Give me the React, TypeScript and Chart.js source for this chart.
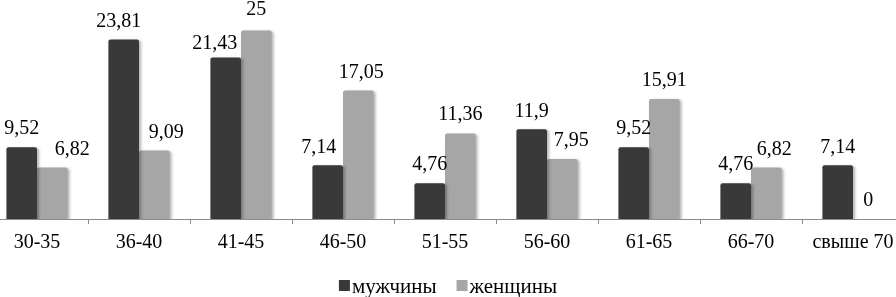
import React, { useEffect, useRef } from "react";
import { Chart, registerables } from "chart.js";

Chart.register(...registerables);

// ---- data ----
const categories = ["30-35", "36-40", "41-45", "46-50", "51-55", "56-60", "61-65", "66-70", "свыше 70"];
const menValues = [9.52, 23.81, 21.43, 7.14, 4.76, 11.9, 9.52, 4.76, 7.14];
const womenValues = [6.82, 9.09, 25, 17.05, 11.36, 7.95, 15.91, 6.82, 0];
const seriesNames = ["мужчины", "женщины"];

// ---- style ----
const seriesColors = ["#393939", "#a6a6a6"];
const yMax = 28;
const FONT = "'Liberation Serif', 'Times New Roman', serif";
// label nudges relative to the bar top (px)
const menLabelShiftX = [0, -5, -11, -9, 0, 0, 0, 0, 0];
const womenLabelShiftX = [20, 12, 0, 3, 0, 9, 0, 8, 0];
const menLabelShiftY = [0, 0, 4, 1, 0, 1, 0, 0, 1];
const womenLabelShiftY = [0, 0, -3, 0, 0, 0, 0, 0, 0];

const CANVAS_W = 918;
const CANVAS_H = 297;
const OFFSET_LEFT = -14;

const shadowPlugin = {
  id: "barShadow",
  beforeDatasetDraw(chart: any) {
    const ctx = chart.ctx;
    ctx.save();
    ctx.shadowColor = "rgba(0,0,0,0.3)";
    ctx.shadowBlur = 3;
    ctx.shadowOffsetX = 2;
    ctx.shadowOffsetY = 1;
  },
  afterDatasetDraw(chart: any) {
    chart.ctx.restore();
  },
};

const dataLabelPlugin = {
  id: "dataLabels",
  afterDatasetsDraw(chart: any) {
    const ctx = chart.ctx;
    const shiftsX = [menLabelShiftX, womenLabelShiftX];
    const shiftsY = [menLabelShiftY, womenLabelShiftY];
    ctx.save();
    ctx.font = `20px ${FONT}`;
    ctx.fillStyle = "#000";
    ctx.textAlign = "center";
    ctx.textBaseline = "alphabetic";
    chart.data.datasets.forEach((ds: any, di: number) => {
      const meta = chart.getDatasetMeta(di);
      meta.data.forEach((bar: any, i: number) => {
        const v = ds.data[i];
        const text = String(v).replace(".", ",");
        ctx.fillText(text, bar.x + shiftsX[di][i], bar.y - 13 + shiftsY[di][i]);
      });
    });
    ctx.restore();
  },
};

const legendPlugin = {
  id: "customLegend",
  afterDraw(chart: any) {
    const ctx = chart.ctx;
    ctx.save();
    ctx.font = `21px ${FONT}`;
    ctx.textBaseline = "alphabetic";
    ctx.textAlign = "left";
    const box = 11;
    const gapBox = 2;
    const gapItem = 20;
    const widths = seriesNames.map((n) => ctx.measureText(n).width);
    const total =
      widths.reduce((a, w) => a + box + gapBox + w, 0) + gapItem * (seriesNames.length - 1);
    const centerX = 448 - OFFSET_LEFT;
    let x = centerX - total / 2;
    const baseline = 293;
    seriesNames.forEach((name, i) => {
      ctx.fillStyle = seriesColors[i];
      ctx.fillRect(x, baseline - 13, box, box);
      ctx.fillStyle = "#000";
      ctx.fillText(name, x + box + gapBox, baseline);
      x += box + gapBox + widths[i] + gapItem;
    });
    ctx.restore();
  },
};

export default function App() {
  const ref = useRef<HTMLCanvasElement | null>(null);

  useEffect(() => {
    if (!ref.current) return;
    const chart = new Chart(ref.current, {
      type: "bar",
      data: {
        labels: categories,
        datasets: [
          {
            label: seriesNames[0],
            data: menValues,
            backgroundColor: seriesColors[0],
            borderRadius: 2,
            categoryPercentage: 0.6,
            barPercentage: 1,
          },
          {
            label: seriesNames[1],
            data: womenValues,
            backgroundColor: seriesColors[1],
            borderRadius: 2,
            categoryPercentage: 0.6,
            barPercentage: 1,
          },
        ],
      },
      options: {
        animation: false,
        responsive: false,
        layout: { padding: { top: 8, left: 0, right: 0, bottom: 0 } },
        plugins: {
          legend: { display: false },
          tooltip: { enabled: false },
        },
        scales: {
          x: {
            grid: {
              display: true,
              drawOnChartArea: false,
              drawTicks: true,
              tickLength: 5,
              color: "#8c8c8c",
              offset: true,
            },
            border: { display: true, color: "#8c8c8c", width: 1 },
            ticks: {
              color: "#000",
              font: { family: FONT, size: 20 },
              padding: 7,
              maxRotation: 0,
              autoSkip: false,
            },
            afterFit: (scale: any) => {
              scale.height = 78;
            },
          },
          y: {
            display: false,
            min: 0,
            max: yMax,
          },
        },
      },
      plugins: [shadowPlugin, dataLabelPlugin, legendPlugin],
    });
    return () => chart.destroy();
  }, []);

  return (
    <div
      style={{
        position: "fixed",
        left: 0,
        top: 0,
        width: 896,
        height: 297,
        overflow: "hidden",
        background: "#fff",
      }}
    >
      <div style={{ position: "absolute", left: OFFSET_LEFT, top: 0, width: CANVAS_W, height: CANVAS_H }}>
        <canvas ref={ref} width={CANVAS_W} height={CANVAS_H} />
      </div>
    </div>
  );
}
